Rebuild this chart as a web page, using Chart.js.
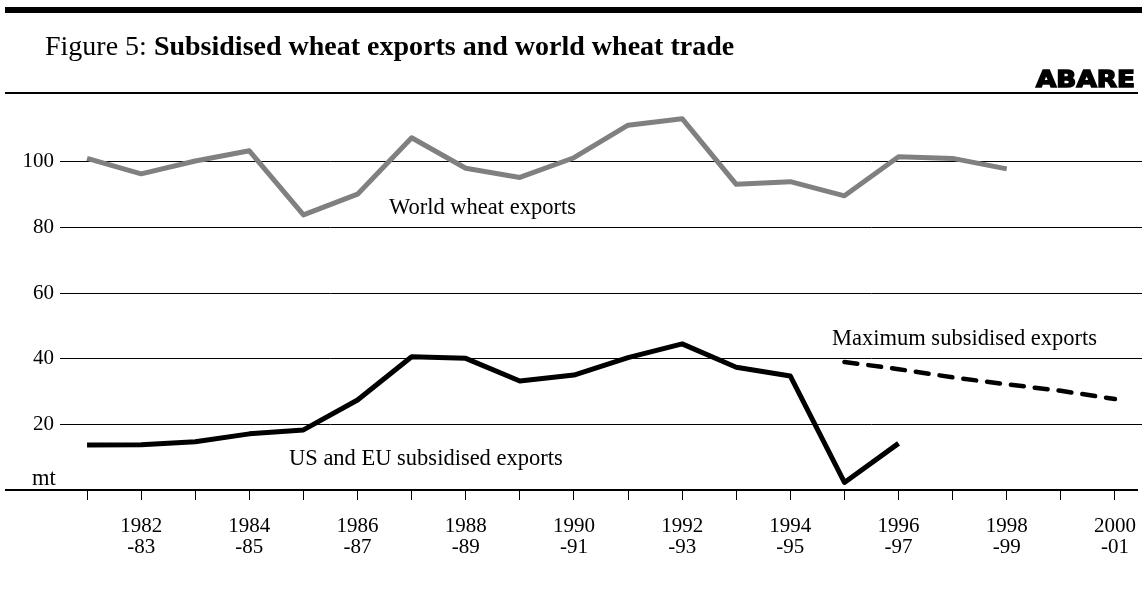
<!DOCTYPE html>
<html>
<head>
<meta charset="utf-8">
<script src="https://cdn.jsdelivr.net/npm/chart.js@4/dist/chart.umd.min.js"></script>
<style>
  body { margin: 0; background: #fff; }
  #wrap { width: 1147px; height: 590px; position: relative; }
</style>
</head>
<body>
<div id="wrap"><canvas id="wheatChart"></canvas></div>
<script>
const years = ['1981','1982','1983','1984','1985','1986','1987','1988','1989','1990',
               '1991','1992','1993','1994','1995','1996','1997','1998','1999','2000'];
const worldExports = [101.0, 96.3, 100.2, 103.3, 83.8, 90.1, 107.3, 98.0, 95.2, 101.2,
                      111.1, 113.1, 93.1, 93.9, 89.6, 101.5, 101.0, 97.8, null, null];
const subsidisedExports = [13.7, 13.8, 14.7, 17.1, 18.3, 27.4, 40.6, 40.1, 33.2, 35.0,
                           40.3, 44.5, 37.4, 34.7, 2.3, 14.2, null, null, null, null];
const maxSubsidised = [null, null, null, null, null, null, null, null, null, null,
                       null, null, null, null, 39.0, 36.8, 34.3, 32.2, 30.2, 27.7];
const yTicks = [20, 40, 60, 80, 100];

const serif = '"Liberation Serif", "Times New Roman", serif';

const decorations = {
  id: 'decorations',
  afterDraw(chart) {
    const ctx = chart.ctx;
    const area = chart.chartArea;
    ctx.save();
    // top bar and rules
    ctx.fillStyle = '#000';
    ctx.fillRect(5, 7, 1137, 6);
    ctx.fillRect(5, 92, 1133, 2);
    ctx.fillRect(5, area.bottom - 1, 1133, 2);

    // title
    ctx.textBaseline = 'alphabetic';
    ctx.textAlign = 'left';
    ctx.font = '28px ' + serif;
    const lead = 'Figure 5: ';
    ctx.fillText(lead, 45, 55);
    const w = ctx.measureText(lead).width;
    ctx.font = 'bold 28px ' + serif;
    ctx.fillText('Subsidised wheat exports and world wheat trade', 45 + w, 55);

    // ABARE logo
    ctx.font = 'bold 23px "DejaVu Sans", sans-serif';
    const lw = ctx.measureText('ABARE').width;
    ctx.translate(1036, 87);
    ctx.scale(99 / lw, 1);
    ctx.lineWidth = 1.5;
    ctx.strokeStyle = '#000';
    ctx.strokeText('ABARE', 0, 0);
    ctx.fillText('ABARE', 0, 0);
    ctx.setTransform(1, 0, 0, 1, 0, 0);

    // series labels
    ctx.font = '22.5px ' + serif;
    ctx.textBaseline = 'middle';
    ctx.fillText('World wheat exports', 389, 208);
    ctx.fillText('US and EU subsidised exports', 289, 459);
    ctx.fillText('Maximum subsidised exports', 832, 339);
    ctx.textBaseline = 'alphabetic';
    ctx.fillText('mt', 32, 485);
    ctx.restore();
  }
};

new Chart(document.getElementById('wheatChart'), {
  type: 'line',
  data: {
    labels: years,
    datasets: [
      { label: 'World wheat exports', data: worldExports, borderColor: '#808080',
        borderWidth: 5, pointRadius: 0, borderJoinStyle: 'round' },
      { label: 'US and EU subsidised exports', data: subsidisedExports, borderColor: '#000',
        borderWidth: 5, pointRadius: 0, borderJoinStyle: 'round' },
      { label: 'Maximum subsidised exports', data: maxSubsidised, borderColor: '#000',
        borderWidth: 4.5, borderDash: [13, 11], borderCapStyle: 'round', pointRadius: 0 }
    ]
  },
  options: {
    responsive: true,
    maintainAspectRatio: false,
    animation: false,
    layout: { padding: { top: 96, right: 5, left: 0, bottom: 0 } },
    plugins: { legend: { display: false }, tooltip: { enabled: false } },
    scales: {
      x: {
        offset: true,
        afterFit: s => { s.height = 100; s.paddingLeft = 0; s.paddingRight = 0; },
        grid: { drawOnChartArea: false, tickLength: 10, color: '#000', lineWidth: 1, offset: false },
        border: { display: false },
        ticks: {
          autoSkip: false, maxRotation: 0, color: '#000', padding: 16,
          font: { family: serif, size: 21, lineHeight: 1.0 },
          callback: (v, i) => {
            const y = Number(years[i]);
            return y % 2 === 0 ? [String(y), '-' + String(y + 1).slice(2)] : '';
          }
        }
      },
      y: {
        min: 0, max: 120,
        afterFit: s => { s.width = 60; },
        afterBuildTicks: s => { s.ticks = [0, ...yTicks, 120].map(v => ({ value: v })); },
        grid: {
          drawTicks: false,
          color: c => yTicks.includes(c.tick.value) ? '#000' : 'rgba(0,0,0,0)',
          lineWidth: 1
        },
        border: { display: false },
        ticks: {
          color: '#000', padding: 6,
          font: { family: serif, size: 21 },
          callback: v => yTicks.includes(v) ? String(v) : ''
        }
      }
    }
  },
  plugins: [decorations]
});
</script>
</body>
</html>
